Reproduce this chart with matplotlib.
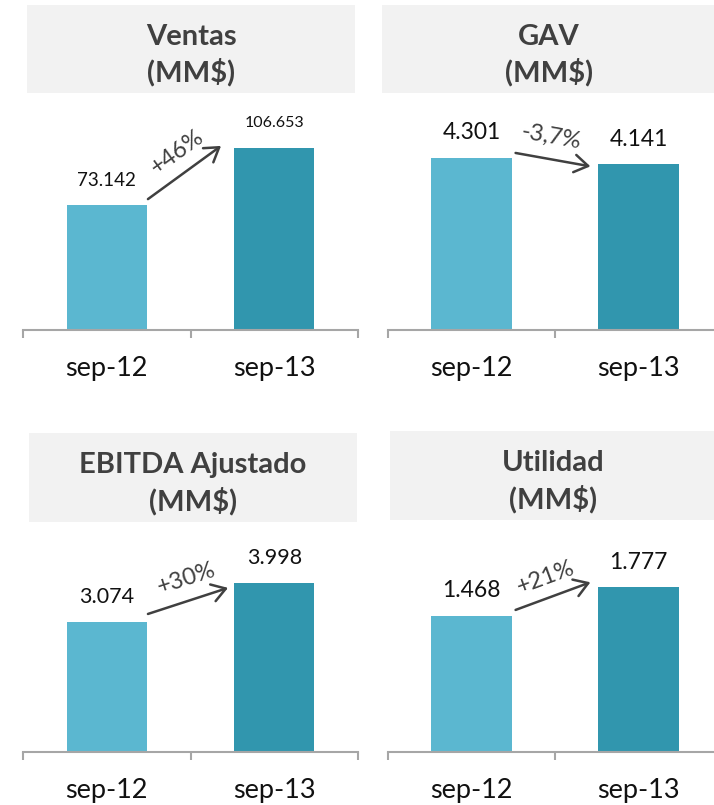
import math
import matplotlib
matplotlib.use("Agg")
import matplotlib.pyplot as plt
from matplotlib.transforms import offset_copy

# Figures in MM$ for the two periods
periods = ['sep-12', 'sep-13']
titles = ['Ventas\n(MM$)', 'GAV\n(MM$)', 'EBITDA Ajustado\n(MM$)', 'Utilidad\n(MM$)']
ventas = [73.142, 106.653]
gav = [4.301, 4.141]
ebitda = [3.074, 3.998]
utilidad = [1.468, 1.777]
changes = ['+46%', '-3,7%', '+30%', '+21%']

series = [ventas, gav, ebitda, utilidad]

# Layout in pixels (left, top, right, bottom) on a 714x805 canvas
W, H = 714, 805
plot_boxes = [(23, 100, 358, 330), (388, 100, 722, 330),
              (23, 525, 358, 752), (388, 525, 722, 752)]
title_boxes = [(27, 5, 355, 93), (382, 5, 716, 93),
               (29, 433, 357, 522), (390, 431, 716, 520)]
y_max = [134.7, 5.75, 5.366, 2.449]
label_sizes = [(13.5, 11.5), (16.5, 16.5), (15.5, 15.5), (16.5, 16.5)]
# arrow start/end offsets in px: (dx, dy) from bar corners, and text offset from arrow midpoint
arrow_start = [(1, 6), (4, 5), (1, 8), (4, 6)]
arrow_end = [(-13, 2), (-8, -2), (-6, -5), (-8, 5)]
text_off = [(-7, 20), (-2, 23), (-2, 22), (-7, 19)]

colors = ['#5BB7D0', '#3196AE']
axis_color = '#A6A6A6'
dark = '#404040'
bar_w = 0.48

plt.rcParams['font.family'] = ['Lato', 'DejaVu Sans']

fig = plt.figure(figsize=(W / 100, H / 100), dpi=100)


def px_axes(box):
    x0, y0, x1, y1 = box
    return fig.add_axes([x0 / W, 1 - y1 / H, (x1 - x0) / W, (y1 - y0) / H])


for i, vals in enumerate(series):
    # grey title box
    tax = px_axes(title_boxes[i])
    tax.set_facecolor('#F2F2F2')
    tax.set_xticks([])
    tax.set_yticks([])
    for s in tax.spines.values():
        s.set_visible(False)
    tax.text(0.5, 0.43, titles[i], ha='center', va='center', fontsize=21,
             fontweight='bold', color=dark, linespacing=1.35,
             transform=tax.transAxes)

    ax = px_axes(plot_boxes[i])
    x = list(range(len(periods)))
    ax.bar(x, vals, width=bar_w, color=colors)
    ax.set_xlim(-0.5, 1.5)
    ax.set_ylim(0, y_max[i])
    ax.patch.set_alpha(0)
    for side in ['top', 'right', 'left']:
        ax.spines[side].set_visible(False)
    ax.spines['bottom'].set_color(axis_color)
    ax.spines['bottom'].set_linewidth(1.5)
    ax.set_yticks([])
    ax.set_xticks(x)
    ax.set_xticklabels(periods, fontsize=19.5, color='#111111')
    ax.tick_params(axis='x', which='major', length=0, pad=19)
    ax.set_xticks([-0.5, 0.5, 1.5], minor=True)
    ax.tick_params(axis='x', which='minor', length=6, width=1.5,
                   color=axis_color, direction='out')

    # value labels
    for j, v in enumerate(vals):
        ax.annotate(f'{v:.3f}', xy=(x[j], v), xytext=(0, 18),
                    textcoords='offset points', ha='center', va='center',
                    fontsize=label_sizes[i][j], color='#111111')

    # change arrow between the bars
    sx, sy = arrow_start[i]
    ex, ey = arrow_end[i]
    p0 = (x[0] + bar_w / 2, vals[0])
    p1 = (x[1] - bar_w / 2, vals[1])
    tr0 = offset_copy(ax.transData, fig=fig, x=sx, y=sy, units='dots')
    tr1 = offset_copy(ax.transData, fig=fig, x=ex, y=ey, units='dots')
    ax.annotate('', xy=p1, xycoords=tr1, xytext=p0, textcoords=tr0,
                arrowprops=dict(arrowstyle='->,head_length=0.7,head_width=0.45',
                                mutation_scale=14, color=dark, lw=1.8,
                                shrinkA=0, shrinkB=0))
    d0 = tr0.transform(p0)
    d1 = tr1.transform(p1)
    angle = math.degrees(math.atan2(d1[1] - d0[1], d1[0] - d0[0]))
    mid = ((d0[0] + d1[0]) / 2 + text_off[i][0], (d0[1] + d1[1]) / 2 + text_off[i][1])
    fig.text(mid[0] / W, mid[1] / H, changes[i], ha='center', va='center',
             rotation=angle, rotation_mode='anchor', fontsize=17, color=dark)

fig.savefig('out.png', dpi=100)
